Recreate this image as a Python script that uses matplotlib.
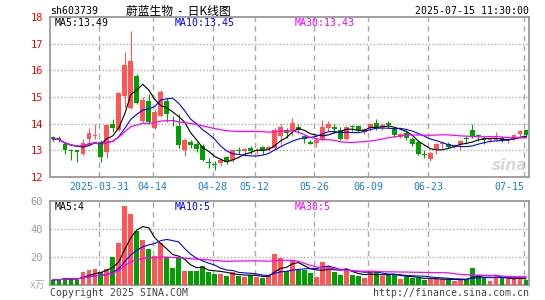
import numpy as np
import pandas as pd
import matplotlib
matplotlib.use("Agg")
import matplotlib.pyplot as plt

# daily candles 2025-03-19 .. 2025-07-15 (index 0..79)
opens = [13.50, 13.48, 13.25, 13.01, 13.00, 12.85, 13.42, 13.52, 13.30, 12.92,
         14.00, 13.75, 15.02, 14.60, 15.80, 14.10, 14.85, 13.82, 14.30, 14.85,
         14.13, 13.92, 13.00, 13.30, 13.22, 13.15, 12.55, 12.48, 12.52, 12.75,
         12.62, 13.02, 12.98, 13.08, 12.99, 13.12, 13.05, 13.10, 13.53, 13.78,
         13.72, 13.87, 13.53, 13.32, 13.28, 13.40, 13.85, 13.88, 13.75, 13.43,
         13.90, 13.90, 13.70, 13.85, 14.03, 13.88, 14.03, 13.85, 13.50, 13.65,
         13.43, 13.32, 12.85, 12.68, 13.05, 13.22, 13.24, 13.14, 13.22, 13.45,
         13.75, 13.54, 13.47, 13.39, 13.38, 13.47, 13.34, 13.44, 13.60, 13.75]
closes = [13.43, 13.38, 13.02, 12.98, 12.95, 13.28, 13.65, 13.55, 12.75, 13.95,
          13.83, 15.15, 16.20, 16.35, 14.78, 14.90, 14.06, 14.45, 15.20, 14.38,
          14.10, 13.20, 13.40, 13.20, 13.05, 12.65, 12.52, 12.45, 12.65, 12.57,
          13.00, 12.99, 13.05, 12.97, 13.02, 12.97, 13.14, 13.75, 13.88, 13.66,
          14.02, 13.78, 13.41, 13.24, 13.40, 13.88, 13.97, 13.80, 13.44, 13.88,
          13.87, 13.75, 13.80, 14.00, 13.88, 13.95, 13.94, 13.57, 13.62, 13.47,
          13.24, 12.86, 12.83, 12.91, 13.25, 13.25, 13.11, 13.17, 13.34, 13.43,
          13.49, 13.52, 13.38, 13.41, 13.43, 13.37, 13.39, 13.56, 13.72, 13.56]
highs = [13.55, 13.52, 13.32, 13.05, 13.03, 13.44, 13.82, 14.00, 13.38, 14.00,
         14.18, 15.18, 16.70, 17.47, 15.85, 15.00, 15.10, 14.55, 15.25, 14.97,
         14.30, 14.35, 13.45, 13.40, 13.30, 13.25, 12.70, 12.60, 12.72, 12.80,
         13.05, 13.12, 13.10, 13.15, 13.08, 13.15, 13.18, 13.85, 14.00, 13.85,
         14.20, 13.98, 13.57, 13.40, 13.47, 14.15, 14.10, 13.97, 13.88, 13.91,
         13.95, 13.95, 13.85, 14.04, 14.16, 14.03, 14.10, 13.89, 13.66, 13.78,
         13.50, 13.34, 13.00, 12.94, 13.28, 13.28, 13.30, 13.22, 13.40, 13.53,
         14.00, 13.60, 13.53, 13.47, 13.68, 13.53, 13.47, 13.62, 13.78, 13.78]
lows = [13.35, 13.30, 12.88, 12.62, 12.58, 12.82, 13.25, 13.42, 12.55, 12.70,
        13.67, 13.72, 14.62, 14.55, 14.72, 14.03, 13.98, 13.80, 14.25, 14.06,
        13.92, 13.08, 12.78, 13.08, 12.95, 12.60, 12.35, 12.28, 12.42, 12.50,
        12.55, 12.85, 12.88, 12.87, 12.85, 12.86, 12.96, 13.02, 13.20, 13.47,
        13.53, 13.66, 13.28, 13.22, 13.12, 13.34, 13.72, 13.66, 13.40, 13.37,
        13.72, 13.70, 13.60, 13.72, 13.78, 13.78, 13.82, 13.50, 13.47, 13.40,
        13.15, 12.84, 12.70, 12.60, 12.87, 13.08, 13.09, 13.09, 13.02, 13.25,
        13.47, 13.34, 13.24, 13.32, 13.34, 13.30, 13.28, 13.38, 13.53, 13.49]
# volume in 万手
volumes = [3.8, 3.8, 5.0, 5.0, 3.8, 9.3, 11.0, 11.4, 9.3, 11.7,
           20.0, 30.0, 56.7, 50.7, 38.8, 32.4, 25.7, 21.0, 30.0, 20.0,
           12.1, 19.8, 9.8, 10.0, 10.0, 13.8, 9.5, 7.6, 7.6, 6.7,
           9.0, 6.4, 6.0, 7.0, 6.0, 5.2, 6.4, 22.0, 19.5, 10.0,
           17.9, 10.7, 10.7, 8.8, 5.7, 16.7, 13.8, 9.5, 7.1, 10.7,
           7.1, 6.7, 5.2, 9.0, 9.0, 6.7, 7.1, 7.1, 4.3, 6.0,
           5.2, 4.8, 3.6, 4.3, 4.3, 4.3, 4.0, 3.1, 3.6, 4.0,
           12.4, 7.1, 6.0, 3.1, 6.4, 4.8, 4.0, 4.0, 5.2, 3.6]

date_idx = [8, 17, 27, 34, 44, 53, 63, 79]
date_labels = ['2025-03-31', '04-14', '04-28', '05-12', '05-26', '06-09', '06-23', '07-15']

price_ticks = [12, 13, 14, 15, 16, 17, 18]
vol_ticks = [20, 40, 60]

df = pd.DataFrame({'open': opens, 'close': closes, 'high': highs, 'low': lows, 'vol': volumes})
for n in (5, 10, 30):
    df['ma%d' % n] = df['close'].rolling(n, min_periods=1).mean()
    df['vma%d' % n] = df['vol'].rolling(n, min_periods=1).mean()

RED = '#ff5555'
GREEN = '#00a000'
GRID = '#aaaaaa'
colors = [RED if c >= o else GREEN for o, c in zip(df['open'], df['close'])]
x = np.arange(len(df))

W, H = 545, 300
fig = plt.figure(figsize=(W / 100, H / 100), dpi=100)

def frac(px, py):
    return px / W, 1 - py / H

mono = 'DejaVu Sans Mono'
cjk = ['Noto Sans CJK SC', 'DejaVu Sans']
FS = 7.1

ax = fig.add_axes([50 / W, 1 - 177 / H, 479 / W, 160 / H])
axv = fig.add_axes([50 / W, 1 - 285 / H, 479 / W, 84 / H])

# candles
for i in x:
    o, c, h, l = df.loc[i, ['open', 'close', 'high', 'low']]
    ax.vlines(i, l, h, color=colors[i], lw=0.8, zorder=3)
    body = max(abs(c - o), 0.04)
    ax.bar(i, body, bottom=min(o, c), width=0.8, color=colors[i], lw=0, zorder=3)

ax.plot(x, df['ma5'], color='black', lw=0.8, zorder=4)
ax.plot(x, df['ma10'], color='#0000ff', lw=0.8, zorder=4)
ax.plot(x, df['ma30'], color='#ff00ff', lw=0.9, zorder=4)

axv.bar(x, df['vol'], width=0.8, color=colors, lw=0, zorder=3)
axv.plot(x, df['vma5'], color='black', lw=0.8, zorder=4)
axv.plot(x, df['vma10'], color='#0000ff', lw=0.8, zorder=4)
axv.plot(x, df['vma30'], color='#ff00ff', lw=0.9, zorder=4)

for a in (ax, axv):
    a.set_xlim(-0.5, 79.5)
    a.set_xticks([])
    for d in date_idx:
        a.axvline(d - 0.33, color=GRID, lw=1, ls=(0, (4, 3)), zorder=1)
    for s in a.spines.values():
        s.set_color('#999999')
        s.set_linewidth(1.3)
    a.tick_params(length=0)

ax.set_ylim(12, 18)
ax.set_yticks(price_ticks)
ax.set_yticklabels([str(t) for t in price_ticks], color='red', fontfamily=mono, fontsize=7.5)
for t in price_ticks[1:-1]:
    ax.axhline(t, color=GRID, lw=1, ls=(0, (1, 1.5)), zorder=1)
ax.tick_params(axis='y', pad=5)

axv.set_ylim(0, 60)
axv.set_yticks(vol_ticks)
axv.set_yticklabels([str(t) for t in vol_ticks], color='#999999', fontfamily=mono, fontsize=7.5)
for t in vol_ticks[:-1]:
    axv.axhline(t, color=GRID, lw=1, ls=(0, (1, 1.5)), zorder=1)
axv.tick_params(axis='y', pad=5)

# date labels under the price panel (last one sits flush with the right edge)
for d, lab in zip(date_idx, date_labels):
    ha = 'right' if d == date_idx[-1] else 'center'
    ax.text(d - 0.33, -0.06, lab, transform=ax.get_xaxis_transform(), ha=ha, va='center',
            color='#1a7fd0', fontfamily=mono, fontsize=FS)

# sina watermark
ax.text(79.2, 12.42, 'sina', ha='right', va='center', fontsize=11, style='italic', weight='bold',
        color='#d8d8d8', zorder=0)

# texts
fig.text(*frac(50, 11), 'sh603739', ha='left', va='center', fontfamily=mono, fontsize=FS)
fig.text(*frac(178, 11), '蔚蓝生物  -  日K线图', ha='center', va='center', family=cjk, fontsize=8.5)
fig.text(*frac(529, 11), '2025-07-15 11:30:00', ha='right', va='center', fontfamily=mono, fontsize=FS)

fig.text(*frac(55, 23.5), 'MA5:13.49', ha='left', va='center', fontfamily=mono, fontsize=FS, color='black')
fig.text(*frac(175, 23.5), 'MA10:13.45', ha='left', va='center', fontfamily=mono, fontsize=FS, color='#0000ff')
fig.text(*frac(295, 23.5), 'MA30:13.43', ha='left', va='center', fontfamily=mono, fontsize=FS, color='#ff00ff')

fig.text(*frac(55, 207), 'MA5:4', ha='left', va='center', fontfamily=mono, fontsize=FS, color='black')
fig.text(*frac(175, 207), 'MA10:5', ha='left', va='center', fontfamily=mono, fontsize=FS, color='#0000ff')
fig.text(*frac(295, 207), 'MA30:5', ha='left', va='center', fontfamily=mono, fontsize=FS, color='#ff00ff')

fig.text(*frac(45, 285), 'x万', ha='right', va='center', family=['DejaVu Sans Mono', 'Noto Sans CJK SC'],
         fontsize=7, color='#aaaaaa')
fig.text(*frac(50, 293), 'Copyright 2025 SINA.COM', ha='left', va='center', fontfamily=mono, fontsize=FS,
         color='#444444')
fig.text(*frac(529, 293), 'http://finance.sina.com.cn', ha='right', va='center', fontfamily=mono,
         fontsize=FS, color='#444444')

fig.savefig('out.png', dpi=100, facecolor='white')
